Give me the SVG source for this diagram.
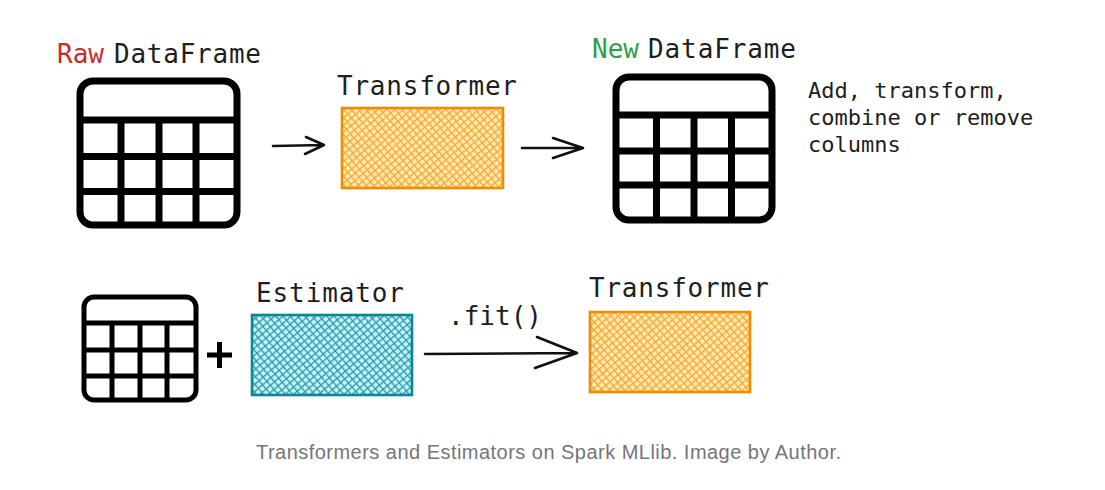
<svg xmlns="http://www.w3.org/2000/svg" width="1105" height="490" viewBox="0 0 1105 490">
<style>
.lbl{font-family:"DejaVu Sans Mono","Liberation Mono",monospace;font-size:26px;fill:#1e1e1e}
.desc{font-family:"DejaVu Sans Mono","Liberation Mono",monospace;font-size:22px;fill:#1e1e1e}
.red{fill:#c92a2a}
.green{fill:#2f9e44}
.tbl{fill:none;stroke:#000;stroke-width:7;stroke-linecap:butt}
.tbls{fill:none;stroke:#000;stroke-width:5}
.conn{fill:none;stroke:#111;stroke-width:2.6;stroke-linecap:round;stroke-linejoin:round}
.orange{fill:url(#hatchO);stroke:#f08c00;stroke-width:2.6}
.teal{fill:url(#hatchT);stroke:#0c8599;stroke-width:2.6}
.cap{font-family:"Liberation Sans",Arial,sans-serif;font-size:20px;fill:#757575}
</style>
<defs>
<pattern id="hatchO" width="5.5" height="5.5" patternUnits="userSpaceOnUse" patternTransform="rotate(-41)">
<rect width="5.5" height="5.5" fill="#ffe9b8"/>
<line x1="0" y1="0" x2="0" y2="5.5" stroke="#f7a928" stroke-width="2.6"/>
<line x1="0" y1="0" x2="5.5" y2="0" stroke="#f7a928" stroke-width="2.6"/>
</pattern>
<pattern id="hatchT" width="5.5" height="5.5" patternUnits="userSpaceOnUse" patternTransform="rotate(-41)">
<rect width="5.5" height="5.5" fill="#cdeef2"/>
<line x1="0" y1="0" x2="0" y2="5.5" stroke="#1c9fb2" stroke-width="2.6"/>
<line x1="0" y1="0" x2="5.5" y2="0" stroke="#1c9fb2" stroke-width="2.6"/>
</pattern>
</defs>
<rect width="1105" height="490" fill="#fff"/>

<g id="raw-dataframe">
<text class="lbl red" x="57" y="63">Raw</text>
<text class="lbl" x="114" y="63" textLength="147">DataFrame</text>
<rect class="tbl" x="80" y="81" width="157" height="144" rx="13"/>
<path class="tbl" d="M80 120H237M80 156.5H237M80 191.5H237M121 120V225M159 120V225M196 120V225"/>
</g>

<g id="transformer-1">
<text class="lbl" x="337" y="95" textLength="180">Transformer</text>
<rect class="orange" x="342" y="108" width="161" height="80"/>
</g>

<g id="new-dataframe">
<text class="lbl green" x="592" y="58">New</text>
<text class="lbl" x="648" y="58" textLength="148">DataFrame</text>
<rect class="tbl" x="616" y="77" width="156" height="143" rx="13"/>
<path class="tbl" d="M616 115H772M616 151H772M616 185H772M656.5 115V220M694 115V220M731.5 115V220"/>
</g>

<g id="note">
<text class="desc" x="808" y="98">Add, transform,</text>
<text class="desc" x="808" y="125">combine or remove</text>
<text class="desc" x="808" y="152">columns</text>
</g>

<g id="small-dataframe">
<rect class="tbls" x="84" y="297" width="112" height="103" rx="10"/>
<path class="tbls" d="M84 323H196M84 350H196M84 376H196M112 323V400M140 323V400M167 323V400"/>
</g>

<g id="plus">
<path class="tbls" d="M207 355H232M219.5 342V368"/>
</g>

<g id="estimator">
<text class="lbl" x="256" y="302" textLength="148">Estimator</text>
<rect class="teal" x="252" y="315" width="160" height="80"/>
</g>

<g id="transformer-2">
<text class="lbl" x="589" y="297" textLength="180">Transformer</text>
<rect class="orange" x="590" y="312" width="160" height="80"/>
</g>

<g id="connectors">
<path class="conn" d="M273 146L324 145M306 137L324 145L305 154"/>
<path class="conn" d="M522 148L583 148M553 138L583 148L553 158"/>
<path class="conn" d="M425 354L577 353M537 337L577 353L535 368"/>
<text class="lbl" x="448" y="325" textLength="94">.fit()</text>
</g>

<text class="cap" x="548.5" y="459" text-anchor="middle" textLength="585">Transformers and Estimators on Spark MLlib. Image by Author.</text>
</svg>
